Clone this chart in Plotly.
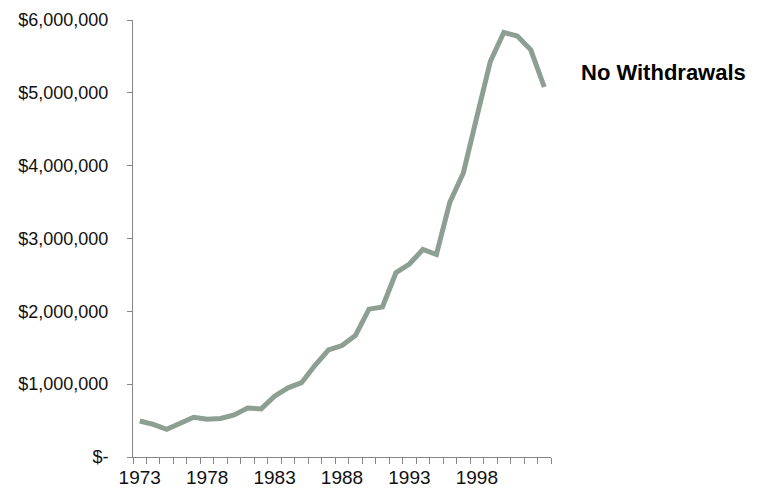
import plotly.graph_objects as go

years = list(range(1973, 2004))
values = [494000, 449000, 380000, 463000, 545000, 520000, 530000, 577000, 673000, 660000,
          835000, 950000, 1020000, 1260000, 1470000, 1530000, 1670000, 2030000, 2060000, 2530000,
          2650000, 2850000, 2780000, 3500000, 3900000, 4670000, 5430000, 5830000, 5780000, 5590000,
          5080000]
x_label_years = [1973, 1978, 1983, 1988, 1993, 1998]
y_tick_vals = [0, 1000000, 2000000, 3000000, 4000000, 5000000, 6000000]
y_tick_text = ["$-", "$1,000,000", "$2,000,000", "$3,000,000", "$4,000,000", "$5,000,000", "$6,000,000"]
series_name = "No Withdrawals"

font_family = "Arial, Liberation Sans, sans-serif"
axis_color = "#868686"

fig = go.Figure()
fig.add_trace(go.Scatter(
    x=years, y=values, mode="lines", name=series_name,
    line=dict(color="#8c9f92", width=5), hoverinfo="x+y",
))

# page body has an 8px default margin, so the figure is sized to fit the window
fig.update_layout(
    width=761, height=487,
    margin=dict(l=125, r=218, t=12, b=38),
    paper_bgcolor="white", plot_bgcolor="white",
    showlegend=False,
    font=dict(family=font_family, size=18, color="#111111"),
    xaxis=dict(
        range=[1972.5, 2003.5], tickmode="array", tickvals=x_label_years,
        ticktext=[str(y) for y in x_label_years],
        ticks="", showgrid=False, zeroline=False, automargin=False,
        showline=True, linecolor=axis_color, linewidth=1,
        minor=dict(ticks="outside", tick0=1972.5, dtick=1, ticklen=6, tickcolor=axis_color, showgrid=False),
        tickfont=dict(size=19, family=font_family, color="#111111"),
        ticklabelstandoff=3,
    ),
    yaxis=dict(
        range=[0, 6000000], tickmode="array", tickvals=y_tick_vals, ticktext=y_tick_text,
        ticks="outside", ticklen=5, tickcolor=axis_color, showgrid=False, zeroline=False,
        automargin=False,
        showline=True, linecolor=axis_color, linewidth=1,
        tickfont=dict(size=18, family=font_family, color="#111111"),
        ticklabelstandoff=15,
    ),
    annotations=[dict(
        text="<b>" + series_name + "</b>", xref="paper", yref="paper",
        x=1.067, y=0.879, xanchor="left", yanchor="middle", showarrow=False,
        font=dict(size=22, family=font_family, color="#000000"),
    )],
)

fig.write_html("out.html")
